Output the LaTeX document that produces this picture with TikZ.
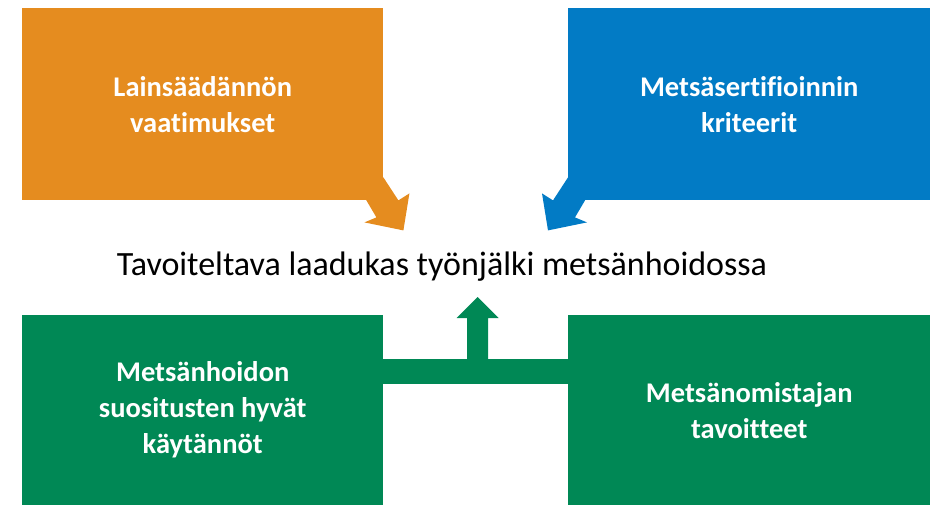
\documentclass[tikz,border=0pt]{standalone}
\usepackage{fontspec}
\setmainfont{Carlito}[Ligatures=NoCommon]
\usetikzlibrary{positioning,calc}
\definecolor{lawOrange}{RGB}{229,140,31}
\definecolor{certBlue}{RGB}{2,123,197}
\definecolor{careGreen}{RGB}{0,136,85}

\begin{document}
\begin{tikzpicture}[x=1pt,y=-1pt,
    box/.style={rectangle, anchor=north west, minimum width=361pt, inner sep=0pt, text=white, font=\fontsize{28.5}{36}\selectfont\bfseries},
    goaltext/.style={font=\fontsize{34}{40}\selectfont},
    every node/.style={align=center}
]
\useasboundingbox (0,0) rectangle (932,505);

% Boxes
\node[box, fill=lawOrange, minimum height=192pt] (law) at (22,8) {Lainsäädännön\\vaatimukset};
\node[box, fill=certBlue, minimum width=362pt, minimum height=192pt] (cert) at (568,8) {Metsäsertifioinnin\\kriteerit};
\node[box, fill=careGreen, minimum height=190pt] (care) at (22,315) {Metsänhoidon\\suositusten hyvät\\käytännöt};
\node[box, fill=careGreen, minimum width=362pt, minimum height=190pt] (owner) at (568,315) {Metsänomistajan\\tavoitteet};

% Goal
\node[goaltext] (goal) at (442,267) {Tavoiteltava laadukas työnjälki metsänhoidossa};

% Law -> goal
\fill[lawOrange] (law.south east) ++(0,-23) -- ++(15,23) -- ++(11,-7) -- ++(-6,37) -- ++(-39,-8) -- ++(12,-5) -- ++(-10,-17) -- ++(-5,-10) -- cycle;
% Certification -> goal
\fill[certBlue] (cert.south west) ++(0,-23) -- ++(-15,23) -- ++(-11,-7) -- ++(6,37) -- ++(39,-8) -- ++(-12,-5) -- ++(10,-17) -- ++(5,-10) -- cycle;

% Care + owner -> goal
\coordinate (join) at (477.5,359);
\fill[careGreen] ($(care.north east)+(-2,44)$) rectangle ($(owner.north west)+(2,69)$);
\fill[careGreen] ($(join)+(-10.5,1)$) -- ++(0,-42) -- ++(-10.5,0) -- ($(join)+(0,-62)$) -- ($(join)+(21,-41)$) -- ++(-10.5,0) -- ++(0,42) -- cycle;

\end{tikzpicture}
\end{document}
